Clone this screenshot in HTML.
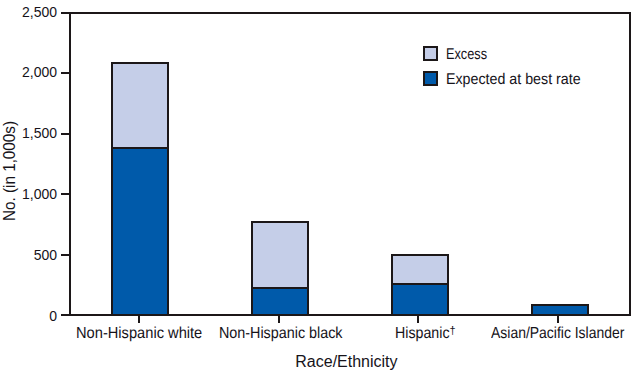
<!DOCTYPE html>
<html><head><meta charset="utf-8">
<style>
html,body{margin:0;padding:0;background:#fff;}
body{width:635px;height:374px;position:relative;overflow:hidden;font-family:"Liberation Sans",sans-serif;color:#16131a;}
.r{position:absolute;background:#1c1718;}
.lt{position:absolute;background:#c5cee8;}
.dk{position:absolute;background:#005aaa;}
.t{position:absolute;white-space:nowrap;line-height:1;transform-origin:0 0;}
.yl{font-size:14px;text-align:right;width:60px;}
.xl{font-size:15px;}
.xg{font-size:16px;text-rendering:geometricPrecision;}
.lg{font-size:15.5px;text-rendering:geometricPrecision;}
</style></head><body>
<!-- bars -->
<!-- bar 1 -->
<div class="r" style="left:111px;top:62px;width:58px;height:254px"></div>
<div class="lt" style="left:113px;top:64px;width:54px;height:83px"></div>
<div class="dk" style="left:113px;top:149px;width:54px;height:165px"></div>
<!-- bar 2 -->
<div class="r" style="left:251px;top:221px;width:58px;height:95px"></div>
<div class="lt" style="left:253px;top:223px;width:54px;height:64px"></div>
<div class="dk" style="left:253px;top:289px;width:54px;height:25px"></div>
<!-- bar 3 -->
<div class="r" style="left:391px;top:254px;width:58px;height:62px"></div>
<div class="lt" style="left:393px;top:256px;width:54px;height:27px"></div>
<div class="dk" style="left:393px;top:285px;width:54px;height:29px"></div>
<!-- bar 4 -->
<div class="r" style="left:531px;top:304px;width:58px;height:12px"></div>
<div class="dk" style="left:533px;top:306px;width:54px;height:8px"></div>

<!-- frame -->
<div class="r" style="left:69px;top:12px;width:562px;height:2px"></div>
<div class="r" style="left:69px;top:314px;width:562px;height:2px"></div>
<div class="r" style="left:69px;top:12px;width:2px;height:304px"></div>
<div class="r" style="left:629px;top:12px;width:2px;height:304px"></div>
<!-- y ticks -->
<div class="r" style="left:61px;top:12px;width:8px;height:2px"></div>
<div class="r" style="left:61px;top:72px;width:8px;height:2px"></div>
<div class="r" style="left:61px;top:133px;width:8px;height:2px"></div>
<div class="r" style="left:61px;top:193px;width:8px;height:2px"></div>
<div class="r" style="left:61px;top:254px;width:8px;height:2px"></div>
<div class="r" style="left:61px;top:314px;width:8px;height:2px"></div>
<!-- x ticks -->
<div class="r" style="left:138px;top:316px;width:2px;height:7px"></div>
<div class="r" style="left:278px;top:316px;width:2px;height:7px"></div>
<div class="r" style="left:417px;top:316px;width:2px;height:7px"></div>
<div class="r" style="left:557px;top:316px;width:2px;height:7px"></div>

<!-- y labels -->
<div class="t yl" style="left:-3px;top:5px">2,500</div>
<div class="t yl" style="left:-3px;top:65px">2,000</div>
<div class="t yl" style="left:-3px;top:126px">1,500</div>
<div class="t yl" style="left:-3px;top:187px">1,000</div>
<div class="t yl" style="left:-3px;top:248px">500</div>
<div class="t yl" style="left:-3px;top:309px">0</div>

<!-- x labels -->
<div class="t xg" style="left:75.6px;top:326px;transform:scaleX(0.916)">Non-Hispanic white</div>
<div class="t xg" style="left:218.5px;top:326px;transform:scaleX(0.896)">Non-Hispanic black</div>
<div class="t xg" style="left:394.9px;top:326px;transform:scaleX(0.888)">Hispanic</div>
<div class="t" style="left:449.5px;top:325px;font-size:11px">&#8224;</div>
<div class="t xg" style="left:490.8px;top:326px;transform:scaleX(0.872)">Asian/Pacific Islander</div>

<div class="t" style="left:295.3px;top:354px;font-size:16px">Race/Ethnicity</div>

<!-- y title -->
<div class="t" style="left:2px;top:221px;font-size:16px;transform-origin:0 0;transform:rotate(-90deg) scaleX(0.953)">No. (in 1,000s)</div>

<!-- legend -->
<div class="r" style="left:423px;top:46px;width:15px;height:15px"></div>
<div class="lt" style="left:425px;top:48px;width:11px;height:11px"></div>
<div class="r" style="left:423px;top:71px;width:15px;height:15px"></div>
<div class="dk" style="left:425px;top:73px;width:11px;height:11px"></div>
<div class="t lg" style="left:445.7px;top:47px;transform:scaleX(0.822)">Excess</div>
<div class="t lg" style="left:445.7px;top:72px;transform:scaleX(0.919)">Expected at best rate</div>
</body></html>
